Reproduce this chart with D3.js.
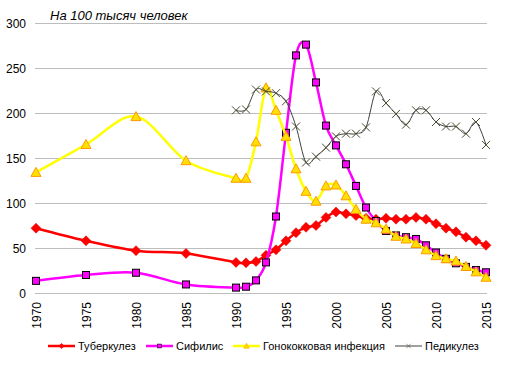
<!DOCTYPE html>
<html>
<head>
<meta charset="utf-8">
<script src="https://cdn.jsdelivr.net/npm/d3@7"></script>
<style>
  body { margin: 0; background: #fff; }
  svg { font-family: "Liberation Sans", Arial, sans-serif; }
</style>
</head>
<body>
<svg id="chart" width="510" height="371"></svg>
<script>
// years for the main three series
const years = [1970, 1975, 1980, 1985, 1990, 1991, 1992, 1993, 1994, 1995, 1996, 1997, 1998, 1999,
  2000, 2001, 2002, 2003, 2004, 2005, 2006, 2007, 2008, 2009, 2010, 2011, 2012, 2013, 2014, 2015];
const pedYears = [1990, 1991, 1992, 1993, 1994, 1995, 1996, 1997, 1998, 1999,
  2000, 2001, 2002, 2003, 2004, 2005, 2006, 2007, 2008, 2009, 2010, 2011, 2012, 2013, 2014, 2015];

const tuberculosis = [72, 58, 47, 44, 34, 33.5, 35, 42, 48, 58, 67, 73, 75, 84,
  90, 88, 86, 83, 82, 83, 82, 82, 84, 82, 77, 72, 68, 62, 58, 53];
const syphilis = [13.5, 20, 22.5, 9.5, 6, 7, 14, 34, 85, 178, 264, 276, 234, 186,
  164, 143, 119, 95, 80, 69, 64, 62, 60, 53, 45, 38, 33, 29, 25.5, 23];
const gonorrhea = [134, 165, 196, 147, 127.5, 127.5, 168, 228, 203, 174, 138, 113, 102, 119,
  120, 108, 93, 82, 78, 71, 63, 60, 55, 48, 41.5, 38, 35.5, 29.5, 23.5, 17.5];
const pediculosis = [203, 204, 226, 224, 222, 213, 185, 145, 151.5, 161.5,
  174, 177, 177, 184, 224, 211, 199, 187, 203, 203, 190, 185, 185, 177, 190, 164.5];

const yTicks = [0, 50, 100, 150, 200, 250, 300];
const xTicks = [1970, 1975, 1980, 1985, 1990, 1995, 2000, 2005, 2010, 2015];

const series = [
  { name: "Туберкулез", x: years, y: tuberculosis, color: "#ff0000", marker: "diamond", width: 2.5 },
  { name: "Сифилис", x: years, y: syphilis, color: "#ff00ff", marker: "square", width: 2.5 },
  { name: "Гонококковая инфекция", x: years, y: gonorrhea, color: "#ffff00", marker: "triangle", width: 2.5 },
  { name: "Педикулез", x: pedYears, y: pediculosis, color: "#404040", marker: "cross", width: 1 }
];

const svg = d3.select("#chart");

const x = d3.scaleLinear().domain([1970, 2015]).range([36, 486]);
const y = d3.scaleLinear().domain([0, 300]).range([293, 23]);

// gridlines
svg.append("g")
  .selectAll("line")
  .data(yTicks)
  .join("line")
  .attr("x1", 35).attr("x2", 487)
  .attr("y1", d => y(d)).attr("y2", d => y(d))
  .attr("stroke", "#bdbdbd").attr("stroke-width", 1)
  .attr("shape-rendering", "crispEdges");

// y labels
svg.append("g")
  .selectAll("text")
  .data(yTicks)
  .join("text")
  .attr("x", 26).attr("y", d => y(d) + 4.5)
  .attr("text-anchor", "end")
  .attr("font-size", 12)
  .attr("fill", "#000")
  .text(d => d);

// x labels, rotated
svg.append("g")
  .selectAll("text")
  .data(xTicks)
  .join("text")
  .attr("transform", d => `translate(${x(d) + 4.5},302) rotate(-90)`)
  .attr("text-anchor", "end")
  .attr("font-size", 12)
  .attr("fill", "#000")
  .text(d => d);

// title
svg.append("text")
  .attr("x", 50).attr("y", 20)
  .attr("font-size", 13)
  .attr("font-style", "italic")
  .text("На 100 тысяч человек");

const line = d3.line().curve(d3.curveCatmullRom.alpha(0));

function drawMarker(g, type, cx, cy) {
  if (type === "diamond") {
    g.append("path")
      .attr("d", `M${cx},${cy - 5}L${cx + 5},${cy}L${cx},${cy + 5}L${cx - 5},${cy}Z`)
      .attr("fill", "#ff0000").attr("stroke", "#e00000").attr("stroke-width", 0.5);
  } else if (type === "square") {
    g.append("rect")
      .attr("x", cx - 3.5).attr("y", cy - 3.5).attr("width", 7).attr("height", 7)
      .attr("fill", "#ff00ff").attr("stroke", "#000").attr("stroke-width", 1);
  } else if (type === "triangle") {
    g.append("path")
      .attr("d", `M${cx},${cy - 5}L${cx + 5},${cy + 4}L${cx - 5},${cy + 4}Z`)
      .attr("fill", "#ffe000").attr("stroke", "#ff9900").attr("stroke-width", 1);
  } else {
    g.append("path")
      .attr("d", `M${cx - 4},${cy - 4}L${cx + 4},${cy + 4}M${cx - 4},${cy + 4}L${cx + 4},${cy - 4}`)
      .attr("stroke", "#4a4a30").attr("stroke-width", 1).attr("fill", "none");
  }
}

series.forEach(s => {
  const pts = s.x.map((d, i) => [x(d), y(s.y[i])]);
  const g = svg.append("g");
  g.append("path")
    .attr("d", line(pts))
    .attr("fill", "none")
    .attr("stroke", s.color)
    .attr("stroke-width", s.width);
  pts.forEach(p => drawMarker(g, s.marker, p[0], p[1]));
});

// legend
const legendPos = [48, 146, 233, 395];
const legendY = 346;
series.forEach((s, i) => {
  const g = svg.append("g");
  const lx = legendPos[i];
  g.append("line")
    .attr("x1", lx).attr("x2", lx + 27)
    .attr("y1", legendY).attr("y2", legendY)
    .attr("stroke", s.color).attr("stroke-width", s.width);
  const mk = g.append("g").attr("transform", `translate(${lx + 13.5},${legendY}) scale(0.55) translate(${-(lx + 13.5)},${-legendY})`);
  drawMarker(mk, s.marker, lx + 13.5, legendY);
  g.append("text")
    .attr("x", lx + 30).attr("y", legendY + 4)
    .attr("font-size", 11)
    .text(s.name);
});
</script>
</body>
</html>
